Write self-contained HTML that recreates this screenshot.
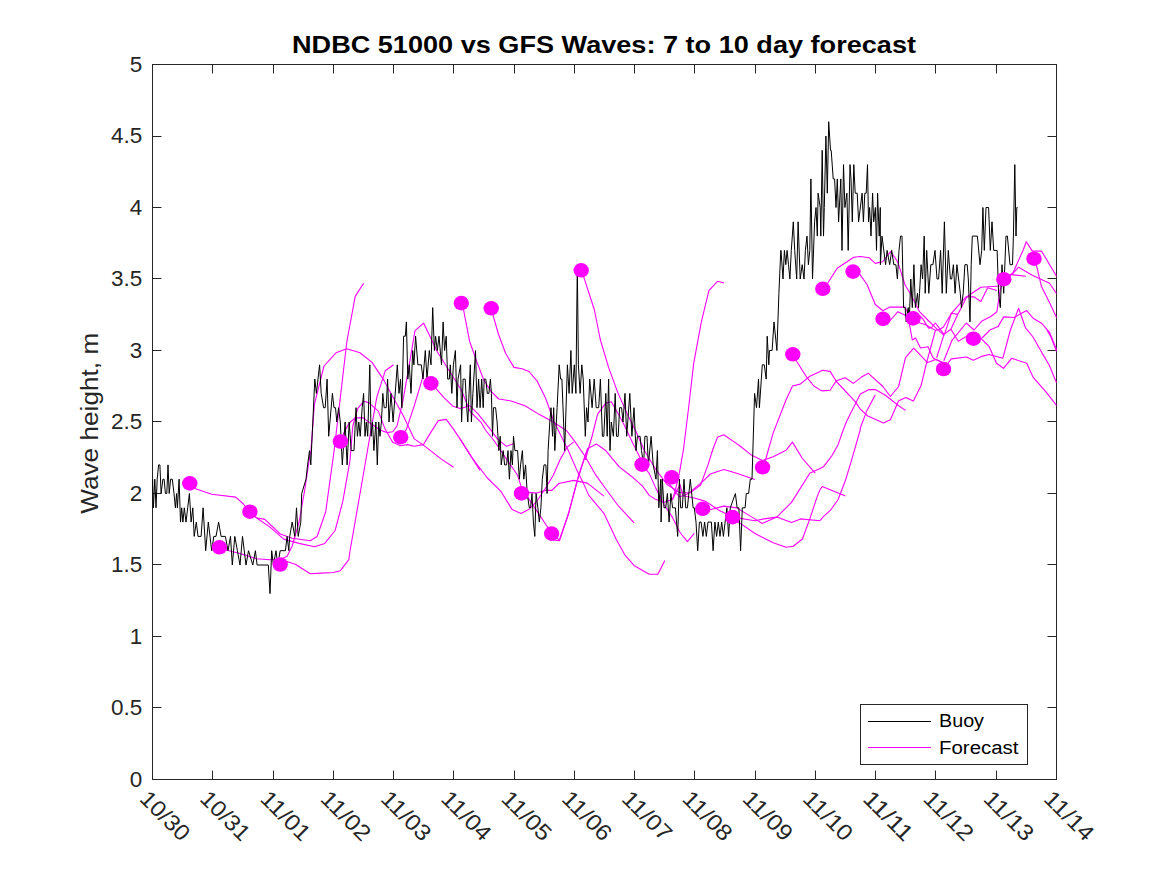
<!DOCTYPE html>
<html><head><meta charset="utf-8"><style>
html,body{margin:0;padding:0;background:#fff;width:1167px;height:875px;overflow:hidden}
svg{display:block;font-family:"Liberation Sans",sans-serif}
</style></head><body>
<svg width="1167" height="875" viewBox="0 0 1167 875">
<rect width="1167" height="875" fill="#fff"/>
<rect x="152.5" y="64.5" width="904" height="715" fill="none" stroke="#262626" stroke-width="1"/>
<path d="M152.5 779.5V770.5M152.5 64.5V73.5M212.5 779.5V770.5M212.5 64.5V73.5M273.5 779.5V770.5M273.5 64.5V73.5M333.5 779.5V770.5M333.5 64.5V73.5M393.5 779.5V770.5M393.5 64.5V73.5M453.5 779.5V770.5M453.5 64.5V73.5M514.5 779.5V770.5M514.5 64.5V73.5M574.5 779.5V770.5M574.5 64.5V73.5M634.5 779.5V770.5M634.5 64.5V73.5M694.5 779.5V770.5M694.5 64.5V73.5M755.5 779.5V770.5M755.5 64.5V73.5M815.5 779.5V770.5M815.5 64.5V73.5M875.5 779.5V770.5M875.5 64.5V73.5M935.5 779.5V770.5M935.5 64.5V73.5M996.5 779.5V770.5M996.5 64.5V73.5M1056.5 779.5V770.5M1056.5 64.5V73.5M152.5 779.5H161.5M1056.5 779.5H1047.5M152.5 707.5H161.5M1056.5 707.5H1047.5M152.5 636.5H161.5M1056.5 636.5H1047.5M152.5 564.5H161.5M1056.5 564.5H1047.5M152.5 493.5H161.5M1056.5 493.5H1047.5M152.5 421.5H161.5M1056.5 421.5H1047.5M152.5 350.5H161.5M1056.5 350.5H1047.5M152.5 278.5H161.5M1056.5 278.5H1047.5M152.5 207.5H161.5M1056.5 207.5H1047.5M152.5 136.5H161.5M1056.5 136.5H1047.5M152.5 64.5H161.5M1056.5 64.5H1047.5" stroke="#262626" stroke-width="1" fill="none"/>
<path d="M189.8 483.4 L196.3 489.1 L211.7 494.2 L235.7 497.1 L243.4 504.0 L249.9 511.7 L256.3 517.7 L264.8 519.4 L280.2 534.0 L292.2 538.3 L310.2 540.8 L317.1 536.5 L325.7 511.7 L334.2 450.0" fill="none" stroke="#ff00ff" stroke-width="1.1" stroke-linejoin="round"/>
<path d="M249.9 511.7 L256.3 517.7 L270.0 527.1 L283.7 539.1 L299.1 543.4 L314.5 546.8 L324.8 543.4 L335.1 530.5 L342.8 501.4 L350.0 460.3" fill="none" stroke="#ff00ff" stroke-width="1.1" stroke-linejoin="round"/>
<path d="M219.4 547.3 L227.1 550.3 L240.8 553.7 L256.3 558.8 L270.0 559.7 L282.0 558.8 L287.1 556.3 L292.2 546.0 L299.1 522.0 L305.1 487.7 L309.4 458.6 L311.1 450.0" fill="none" stroke="#ff00ff" stroke-width="1.1" stroke-linejoin="round"/>
<path d="M280.2 564.5 L287.1 561.4 L295.7 564.5 L310.2 573.7 L321.4 573.1 L333.4 572.5 L340.2 570.8 L348.8 559.7 L350.0 551.1" fill="none" stroke="#ff00ff" stroke-width="1.1" stroke-linejoin="round"/>
<path d="M334.2 450.0 L338.4 414.0 L346.8 342.0 L355.2 296.4 L363.6 283.2" fill="none" stroke="#ff00ff" stroke-width="1.1" stroke-linejoin="round"/>
<path d="M350.0 460.3 L352.8 426.0 L357.7 408.6 L363.7 401.3 L368.8 402.6 L378.3 411.1 L385.1 429.1 L392.6 442.3 L400.6 445.7 L407.4 444.6 L414.3 446.3 L423.4 444.6 L430.3 433.1 L438.3 420.6 L446.3 419.4 L453.1 428.6 L460.0 438.9 L480.0 470.4" fill="none" stroke="#ff00ff" stroke-width="1.1" stroke-linejoin="round"/>
<path d="M311.0 450.0 L314.4 404.4 L324.0 366.0 L336.0 352.8 L346.8 348.7 L360.0 352.8 L372.0 362.4 L384.0 380.4 L391.4 394.3 L402.9 414.9 L414.3 438.9 L423.4 445.1 L441.7 459.4 L453.6 467.3" fill="none" stroke="#ff00ff" stroke-width="1.1" stroke-linejoin="round"/>
<path d="M350.0 551.0 L362.4 480.0 L369.6 438.0 L376.8 397.2 L385.2 370.8 L393.6 364.8" fill="none" stroke="#ff00ff" stroke-width="1.1" stroke-linejoin="round"/>
<path d="M340.4 441.5 L344.0 432.6 L349.1 423.1 L355.1 418.0 L362.8 417.6 L371.4 424.0 L380.0 430.0 L386.8 432.6 L392.8 431.7 L397.1 425.7 L403.1 400.0 L409.9 360.9 L415.0 330.6 L423.6 323.1 L437.3 351.7 L461.3 390.0" fill="none" stroke="#ff00ff" stroke-width="1.1" stroke-linejoin="round"/>
<path d="M400.7 437.2 L406.3 429.7 L414.3 405.7 L423.6 374.6" fill="none" stroke="#ff00ff" stroke-width="1.1" stroke-linejoin="round"/>
<path d="M430.9 383.4 L436.0 388.6 L444.0 397.7 L453.1 406.3 L460.0 408.6" fill="none" stroke="#ff00ff" stroke-width="1.1" stroke-linejoin="round"/>
<path d="M461.3 303.1 L463.6 310.0 L469.6 341.2 L476.9 362.0 L483.7 379.8 L490.6 390.8 L498.8 399.0 L511.2 401.0 L524.9 405.8 L538.6 414.1 L553.7 422.3 L566.9 431.0 L575.1 441.9 L584.7 455.7 L595.7 474.9 L606.6 490.0 L617.6 505.0 L634.1 522.9" fill="none" stroke="#ff00ff" stroke-width="1.1" stroke-linejoin="round"/>
<path d="M491.2 308.3 L493.6 317.2 L498.4 334.0 L505.6 353.2 L513.9 367.4 L522.1 368.8 L529.0 371.5 L537.2 381.2 L544.1 394.9 L546.9 401.7 L553.7 420.9 L560.0 433.7 L568.2 450.2 L576.5 469.4 L583.3 483.1 L588.8 495.4 L603.9 513.3 L616.2 539.3" fill="none" stroke="#ff00ff" stroke-width="1.1" stroke-linejoin="round"/>
<path d="M581.2 270.3 L583.9 277.4 L594.4 310.0 L600.4 340.0 L608.6 367.4 L617.9 392.9 L627.0 413.4 L636.1 431.7 L644.1 450.0 L655.0 468.3 L667.0 484.5 L680.0 492.7" fill="none" stroke="#ff00ff" stroke-width="1.1" stroke-linejoin="round"/>
<path d="M460.0 408.6 L470.0 405.8 L478.2 414.1 L489.2 427.8 L497.4 438.8 L506.4 446.3 L513.9 443.6" fill="none" stroke="#ff00ff" stroke-width="1.1" stroke-linejoin="round"/>
<path d="M461.3 390.0 L470.0 411.3 L481.0 422.3 L485.4 430.0 L494.3 441.0 L505.3 457.4 L517.6 475.3 L521.5 487.6 L528.6 498.6 L536.8 510.9 L545.0 523.3 L551.6 533.6" fill="none" stroke="#ff00ff" stroke-width="1.1" stroke-linejoin="round"/>
<path d="M460.0 438.9 L473.7 460.2 L487.4 478.0 L501.2 491.7 L512.1 509.6 L521.0 513.4 L528.6 509.6 L536.8 501.3 L545.0 489.0 L553.3 475.3 L560.0 459.8 L566.9 447.4 L573.7 441.9" fill="none" stroke="#ff00ff" stroke-width="1.1" stroke-linejoin="round"/>
<path d="M521.5 493.4 L528.6 492.4 L536.8 493.1 L545.0 490.4 L551.9 490.4 L558.8 483.5 L573.7 480.4 L587.4 483.1 L603.9 496.1" fill="none" stroke="#ff00ff" stroke-width="1.1" stroke-linejoin="round"/>
<path d="M551.6 533.6 L558.8 539.7 L560.0 538.0 L568.2 514.7 L577.8 479.0 L587.4 448.8 L596.4 444.0 L605.3 450.2 L619.0 466.6 L631.3 476.2 L642.3 485.8 L649.2 495.4 L656.0 499.6 L664.3 502.3 L672.5 499.6 L680.0 484.5" fill="none" stroke="#ff00ff" stroke-width="1.1" stroke-linejoin="round"/>
<path d="M585.3 460.0 L592.1 436.0 L597.6 414.1 L605.8 403.1 L611.3 401.7 L616.8 411.3 L623.6 423.7 L632.7 443.1 L640.7 459.1" fill="none" stroke="#ff00ff" stroke-width="1.1" stroke-linejoin="round"/>
<path d="M642.0 464.6 L649.2 473.4 L656.0 488.6 L664.3 505.0 L672.5 517.4 L680.0 532.5" fill="none" stroke="#ff00ff" stroke-width="1.1" stroke-linejoin="round"/>
<path d="M616.2 539.3 L625.2 555.4 L634.0 565.4 L649.1 574.2 L657.9 574.2 L664.8 560.4" fill="none" stroke="#ff00ff" stroke-width="1.1" stroke-linejoin="round"/>
<path d="M680.0 532.5 L687.4 541.6 L694.3 533.4" fill="none" stroke="#ff00ff" stroke-width="1.1" stroke-linejoin="round"/>
<path d="M672.5 499.6 L675.4 490.0 L679.4 472.9 L683.4 450.0 L688.2 411.2 L693.7 363.4 L701.3 322.1 L708.9 290.6 L717.5 281.3 L724.1 283.0" fill="none" stroke="#ff00ff" stroke-width="1.1" stroke-linejoin="round"/>
<path d="M680.0 484.5 L682.9 495.7 L694.3 498.0 L705.7 501.4 L712.6 506.0 L719.4 510.6 L728.6 515.1 L740.0 523.1 L754.9 533.5 L773.2 542.7 L786.0 547.2 L793.3 546.3 L802.4 539.0 L809.8 518.9 L817.1 496.9 L820.0 489.6" fill="none" stroke="#ff00ff" stroke-width="1.1" stroke-linejoin="round"/>
<path d="M680.0 492.7 L690.5 492.6 L700.6 485.0 L703.4 477.4 L708.0 464.9 L712.6 450.0 L717.5 437.2 L723.8 434.8 L733.8 441.6 L740.0 446.0 L751.2 454.9 L762.6 460.4" fill="none" stroke="#ff00ff" stroke-width="1.1" stroke-linejoin="round"/>
<path d="M664.1 480.0 L670.3 485.0 L679.4 496.9 L688.6 493.4 L703.4 480.9 L710.3 474.0 L723.8 469.5 L736.6 473.2 L754.9 479.6" fill="none" stroke="#ff00ff" stroke-width="1.1" stroke-linejoin="round"/>
<path d="M702.7 508.8 L709.1 510.0 L723.8 506.1 L736.6 507.9 L754.9 518.9 L762.2 523.5 L776.8 517.1 L791.5 502.4 L809.8 473.2 L820.0 468.6" fill="none" stroke="#ff00ff" stroke-width="1.1" stroke-linejoin="round"/>
<path d="M732.6 517.1 L754.9 520.7 L764.0 518.9 L776.8 517.1 L791.5 522.6 L800.6 518.9 L820.0 520.7" fill="none" stroke="#ff00ff" stroke-width="1.1" stroke-linejoin="round"/>
<path d="M762.6 467.3 L765.9 458.5 L773.2 432.9 L786.0 400.0 L792.5 386.0 L800.2 384.1 L809.9 376.3 L820.0 371.4" fill="none" stroke="#ff00ff" stroke-width="1.1" stroke-linejoin="round"/>
<path d="M762.6 460.4 L773.2 456.7 L786.0 450.3 L792.4 442.1 L802.4 458.5 L815.2 473.2" fill="none" stroke="#ff00ff" stroke-width="1.1" stroke-linejoin="round"/>
<path d="M792.8 354.3 L796.3 360.7 L806.1 376.3 L813.8 386.0 L820.0 389.9" fill="none" stroke="#ff00ff" stroke-width="1.1" stroke-linejoin="round"/>
<path d="M820.0 489.6 L822.3 486.5 L845.4 496.1" fill="none" stroke="#ff00ff" stroke-width="1.1" stroke-linejoin="round"/>
<path d="M820.0 468.6 L823.1 467.1 L831.3 456.7 L838.0 444.9 L843.2 430.0 L846.4 421.7 L860.3 394.0 L869.1 389.6 L875.3 389.6 L885.4 395.3 L898.0 405.3 L905.5 410.4" fill="none" stroke="#ff00ff" stroke-width="1.1" stroke-linejoin="round"/>
<path d="M820.0 520.7 L823.1 516.9 L830.5 510.2 L838.0 499.8 L845.4 480.5 L851.3 461.2 L860.2 430.0 L860.3 428.0 L866.5 411.6 L875.3 394.7" fill="none" stroke="#ff00ff" stroke-width="1.1" stroke-linejoin="round"/>
<path d="M820.0 371.4 L822.6 370.2 L830.1 371.4 L836.4 381.5 L855.2 401.6 L860.3 409.1 L867.8 416.0 L883.5 422.9 L890.4 419.8 L898.5 401.0 L905.7 397.4 L913.4 401.0 L921.1 385.5 L926.8 361.9 L931.4 345.0 L935.4 330.4 L940.0 329.3 L943.4 327.0 L951.4 313.3 L966.3 296.7 L974.0 296.9 L980.9 301.5 L987.7 287.7 L996.9 290.6" fill="none" stroke="#ff00ff" stroke-width="1.1" stroke-linejoin="round"/>
<path d="M820.0 389.9 L822.6 390.9 L830.1 390.3 L836.4 380.8 L845.2 377.7 L853.4 383.4 L861.5 377.1 L868.4 373.3 L882.9 386.5 L890.4 396.5 L898.6 386.5 L905.5 357.6 L913.7 348.2 L927.5 362.6 L935.7 359.5 L943.2 362.6" fill="none" stroke="#ff00ff" stroke-width="1.1" stroke-linejoin="round"/>
<path d="M822.8 288.8 L827.6 283.3 L837.2 268.2 L853.7 257.2 L860.5 256.5 L869.1 257.7 L875.3 263.4 L882.5 261.8 L890.7 251.5 L897.9 262.3 L905.1 285.0 L911.3 295.3 L919.5 311.7 L927.8 320.0 L936.0 328.2 L944.2 335.4" fill="none" stroke="#ff00ff" stroke-width="1.1" stroke-linejoin="round"/>
<path d="M853.0 271.6 L859.8 274.4 L866.9 284.3 L875.3 304.5 L883.0 310.7 L889.7 307.1 L905.1 307.1 L907.2 311.7 L912.3 340.0 L915.5 338.0 L920.5 348.0 L928.0 346.8 L933.1 358.1 L943.1 363.1" fill="none" stroke="#ff00ff" stroke-width="1.1" stroke-linejoin="round"/>
<path d="M943.5 369.0 L951.3 358.9 L966.4 357.0 L973.3 360.2 L981.5 356.4 L989.0 354.5 L1002.8 358.3 L1010.4 330.0 L1018.6 308.3 L1025.5 327.8 L1033.0 337.0 L1041.8 352.6 L1049.3 365.2 L1056.5 382.8" fill="none" stroke="#ff00ff" stroke-width="1.1" stroke-linejoin="round"/>
<path d="M973.4 338.7 L982.0 338.0 L990.0 330.0 L998.0 326.6 L1003.7 316.9 L1014.0 317.5 L1026.6 310.6 L1033.5 318.6 L1041.5 323.2 L1049.5 332.3 L1056.5 349.5" fill="none" stroke="#ff00ff" stroke-width="1.1" stroke-linejoin="round"/>
<path d="M973.4 338.7 L981.5 338.8 L989.0 346.3 L996.5 363.3 L1003.5 368.3 L1011.6 358.3 L1026.7 363.3 L1033.0 377.1 L1046.8 392.8 L1056.5 405.4" fill="none" stroke="#ff00ff" stroke-width="1.1" stroke-linejoin="round"/>
<path d="M1003.8 279.2 L1011.7 274.6 L1018.6 267.2 L1032.3 275.2 L1049.5 283.2 L1056.5 293.5" fill="none" stroke="#ff00ff" stroke-width="1.1" stroke-linejoin="round"/>
<path d="M1011.7 274.6 L1026.0 276.3" fill="none" stroke="#ff00ff" stroke-width="1.1" stroke-linejoin="round"/>
<path d="M1003.8 279.2 L1012.9 272.9 L1023.2 250.0 L1026.3 241.7 L1032.3 251.1 L1041.5 251.1 L1056.5 276.3" fill="none" stroke="#ff00ff" stroke-width="1.1" stroke-linejoin="round"/>
<path d="M1034.0 258.7 L1036.9 267.2 L1041.5 286.6 L1049.5 302.6 L1056.5 317.5" fill="none" stroke="#ff00ff" stroke-width="1.1" stroke-linejoin="round"/>
<path d="M1046.8 330.0 L1050.6 336.3 L1056.5 351.4" fill="none" stroke="#ff00ff" stroke-width="1.1" stroke-linejoin="round"/>
<path d="M883.0 318.9 L889.7 321.0 L897.9 311.7 L906.2 315.8 L913.1 318.4" fill="none" stroke="#ff00ff" stroke-width="1.1" stroke-linejoin="round"/>
<path d="M913.1 318.4 L920.0 316.1 L922.9 319.0 L925.7 323.6 L928.6 328.1 L931.4 327.6 L935.4 323.0 L938.9 327.6 L944.0 334.4" fill="none" stroke="#ff00ff" stroke-width="1.1" stroke-linejoin="round"/>
<path d="M913.1 318.4 L920.0 323.0 L925.7 324.7 L928.6 326.4 L935.4 330.4" fill="none" stroke="#ff00ff" stroke-width="1.1" stroke-linejoin="round"/>
<path d="M936.6 357.8 L943.8 335.1 L944.6 333.9 L950.9 329.3 L957.7 314.4 L966.9 296.7 L980.9 287.2 L1000.3 286.0 L1003.7 279.2" fill="none" stroke="#ff00ff" stroke-width="1.1" stroke-linejoin="round"/>
<path d="M944.6 333.9 L951.4 313.3 L957.7 314.4" fill="none" stroke="#ff00ff" stroke-width="1.1" stroke-linejoin="round"/>
<path d="M943.8 360.8 L952.0 340.3 L966.3 323.0 L970.0 326.4 L974.0 330.0 L982.0 320.9 L991.2 316.3 L996.9 311.7 L1000.3 288.9 L1003.7 279.2" fill="none" stroke="#ff00ff" stroke-width="1.1" stroke-linejoin="round"/>
<path d="M950.9 329.3 L958.3 341.3 L966.9 336.1 L973.4 338.7" fill="none" stroke="#ff00ff" stroke-width="1.1" stroke-linejoin="round"/>
<path d="M549.0 539.5 L559.6 540.6 L569.0 512.0 L578.3 476.5 L584.4 458.0 L588.0 448.8" fill="none" stroke="#ff00ff" stroke-width="1.1" stroke-linejoin="round"/>
<path d="M152.6 479.2 L153.4 507.8 L154.8 479.2 L156.0 507.8 L157.2 479.2 L158.6 464.9 L159.9 464.9 L161.1 493.5 L162.9 479.2 L164.1 479.2 L165.4 493.5 L166.8 493.5 L168.0 464.9 L169.2 493.5 L170.6 479.2 L172.3 479.2 L174.0 493.5 L175.4 507.8 L176.6 493.5 L177.4 507.8 L179.1 479.2 L180.5 522.1 L181.7 507.8 L182.9 522.1 L184.3 507.8 L186.0 522.1 L187.7 507.8 L189.4 493.5 L191.1 522.1 L192.8 507.8 L194.2 536.4 L196.3 522.1 L198.0 536.4 L201.1 536.4 L203.1 507.8 L205.7 550.7 L208.3 522.1 L211.7 550.7 L213.8 536.4 L216.0 536.4 L218.6 522.1 L221.1 536.4 L225.4 536.4 L228.0 550.7 L230.5 536.4 L232.3 565.0 L234.8 536.4 L237.4 550.7 L240.0 565.0 L242.5 536.4 L246.0 565.0 L248.5 550.7 L252.8 565.0 L255.4 550.7 L257.1 565.0 L268.3 565.0 L270.0 593.6 L271.7 550.7 L273.4 565.0 L276.0 550.7 L277.7 565.0 L280.2 550.7 L285.4 550.7 L287.1 536.4 L288.8 550.7 L289.7 536.4 L292.2 522.1 L294.8 536.4 L296.5 507.8 L298.2 536.4 L300.8 522.1 L301.7 493.5 L306.0 479.2 L307.6 464.9 L309.5 450.6 L310.8 464.9 L314.8 379.1 L316.4 393.4 L319.6 364.8 L321.2 393.4 L323.6 407.7 L325.2 407.7 L327.1 379.1 L328.7 436.3 L332.4 393.4 L334.0 407.7 L335.5 407.7 L336.8 422.0 L338.6 407.7 L340.3 422.0 L342.3 464.9 L345.1 422.0 L347.1 464.9 L349.2 422.0 L351.2 450.6 L354.0 450.6 L356.0 407.7 L357.4 436.3 L358.8 422.0 L360.2 436.3 L362.2 407.7 L363.6 393.4 L365.0 436.3 L366.3 422.0 L367.7 436.3 L369.8 364.8 L371.1 436.3 L372.5 422.0 L373.9 450.6 L375.9 422.0 L377.3 464.9 L378.7 422.0 L380.0 436.3 L381.4 422.0 L382.8 393.4 L384.2 407.7 L386.2 407.7 L387.6 379.1 L389.0 422.0 L391.0 393.4 L393.1 422.0 L397.3 364.8 L399.0 393.4 L400.5 379.1 L401.9 407.7 L403.6 336.2 L405.3 336.2 L406.4 321.9 L407.8 379.1 L409.3 364.8 L411.0 393.4 L412.7 350.5 L413.9 364.8 L415.6 336.2 L417.9 364.8 L421.3 364.8 L423.0 379.1 L425.3 350.5 L427.0 379.1 L429.3 350.5 L431.0 364.8 L432.7 307.6 L434.4 350.5 L435.6 336.2 L437.3 350.5 L439.0 336.2 L441.5 364.8 L443.1 321.9 L444.6 350.5 L446.2 336.2 L447.7 379.1 L449.3 379.1 L450.3 364.8 L451.8 393.4 L453.4 364.8 L455.4 350.5 L457.0 407.7 L458.0 379.1 L460.6 364.8 L461.6 422.0 L463.1 379.1 L465.2 379.1 L466.7 407.7 L467.8 422.0 L470.3 364.8 L471.4 422.0 L472.9 393.4 L475.5 350.5 L477.0 407.7 L478.6 379.1 L480.1 407.7 L481.7 379.1 L483.2 407.7 L484.2 379.1 L485.8 379.1 L487.3 393.4 L488.9 393.4 L490.4 379.1 L491.4 393.4 L492.5 436.3 L493.5 407.7 L495.6 407.7 L497.1 422.0 L498.8 450.6 L500.2 436.3 L501.2 464.9 L503.2 450.6 L504.6 464.9 L506.6 464.9 L508.0 450.6 L509.4 479.2 L511.0 450.6 L512.4 464.9 L513.5 436.3 L514.9 450.6 L517.6 450.6 L519.3 479.2 L520.6 464.9 L522.4 450.6 L523.8 479.2 L525.6 464.9 L527.2 493.5 L529.3 507.8 L530.6 507.8 L532.0 493.5 L533.4 522.1 L534.8 536.4 L536.1 493.5 L537.9 507.8 L539.3 522.1 L540.9 507.8 L542.3 479.2 L544.0 464.9 L545.9 464.9 L547.1 493.5 L548.1 450.6 L549.8 422.0 L551.0 407.7 L552.6 436.3 L553.7 407.7 L554.8 450.6 L557.1 407.7 L559.2 364.8 L560.6 379.1 L561.9 379.1 L564.7 450.6 L567.4 364.8 L569.1 393.4 L570.9 350.5 L572.2 393.4 L574.3 364.8 L575.9 393.4 L577.3 264.7 L578.4 364.8 L580.1 393.4 L581.8 364.8 L583.2 379.1 L585.3 436.3 L586.6 407.7 L588.0 422.0 L589.7 379.1 L592.1 407.7 L594.2 379.1 L596.2 407.7 L598.7 407.7 L600.4 379.1 L602.4 436.3 L603.8 436.3 L605.8 393.4 L607.2 436.3 L608.6 379.1 L610.0 450.6 L611.3 422.0 L613.4 436.3 L615.2 393.4 L616.5 436.3 L618.2 436.3 L619.6 407.7 L621.6 407.7 L623.0 422.0 L625.0 393.4 L626.7 436.3 L629.8 393.4 L631.9 436.3 L634.0 407.7 L636.0 450.6 L637.4 436.3 L640.1 436.3 L641.5 450.6 L643.6 464.9 L644.9 436.3 L647.0 436.3 L648.4 464.9 L651.1 436.3 L653.2 464.9 L656.0 479.2 L657.4 450.6 L658.8 507.8 L660.8 479.2 L661.1 522.1 L662.3 479.2 L664.0 507.8 L665.7 507.8 L667.4 493.5 L669.1 522.1 L670.9 493.5 L672.6 507.8 L673.7 507.8 L675.4 507.8 L677.7 536.4 L679.4 479.2 L680.6 507.8 L682.3 507.8 L684.0 479.2 L685.7 507.8 L687.4 507.8 L690.3 479.2 L693.1 507.8 L694.3 507.8 L696.0 522.1 L697.7 550.7 L699.4 522.1 L701.1 522.1 L702.9 536.4 L704.6 522.1 L706.3 536.4 L708.0 522.1 L709.7 522.1 L711.4 522.1 L713.1 550.7 L714.9 522.1 L716.6 536.4 L718.3 522.1 L720.0 536.4 L721.7 522.1 L723.4 536.4 L725.1 522.1 L726.9 507.8 L728.6 536.4 L730.3 507.8 L735.4 493.5 L737.1 507.8 L738.9 507.8 L740.6 550.7 L742.3 507.8 L745.1 507.8 L746.3 493.5 L748.6 493.5 L750.3 479.2 L752.0 479.2 L754.6 393.4 L756.5 407.7 L758.5 379.1 L759.4 407.7 L762.3 364.8 L764.3 364.8 L766.2 379.1 L767.2 336.2 L768.8 364.8 L769.5 350.5 L772.1 350.5 L774.0 321.9 L776.9 350.5 L778.9 293.3 L780.8 250.4 L781.0 250.4 L783.0 279.0 L784.4 250.4 L785.8 264.7 L787.1 250.4 L788.5 264.7 L789.9 279.0 L791.3 250.4 L793.3 221.8 L794.7 250.4 L796.7 279.0 L798.1 221.8 L800.2 279.0 L802.2 264.7 L804.0 279.0 L805.4 250.4 L807.0 236.1 L808.4 264.7 L809.8 250.4 L810.9 178.9 L812.5 279.0 L814.6 221.8 L816.0 207.5 L817.3 236.1 L818.1 193.2 L820.2 207.5 L820.8 236.1 L822.2 150.3 L823.5 236.1 L824.3 207.5 L825.9 136.0 L827.3 193.2 L828.7 121.7 L830.5 150.3 L831.2 150.3 L833.2 178.9 L834.6 178.9 L836.0 207.5 L837.3 178.9 L838.6 221.8 L840.8 178.9 L842.0 250.4 L843.5 164.6 L844.9 207.5 L846.9 193.2 L848.2 250.4 L850.0 164.6 L851.0 178.9 L852.3 221.8 L853.8 164.6 L855.2 193.2 L857.2 193.2 L858.6 221.8 L862.1 193.2 L863.4 221.8 L864.8 193.2 L866.2 193.2 L867.5 164.6 L868.5 221.8 L869.6 207.5 L871.0 236.1 L872.6 193.2 L873.7 221.8 L875.4 207.5 L876.5 250.4 L877.6 193.2 L879.2 236.1 L880.3 207.5 L880.4 264.7 L882.0 236.1 L885.6 264.7 L887.1 250.4 L889.7 264.7 L891.7 250.4 L893.8 264.7 L895.9 264.7 L897.4 279.0 L899.0 250.4 L900.5 236.1 L902.0 236.1 L903.6 307.6 L905.1 307.6 L906.2 321.9 L908.2 307.6 L909.2 321.9 L910.8 279.0 L912.3 307.6 L913.9 264.7 L915.4 307.6 L917.5 293.3 L918.5 307.6 L919.5 293.3 L921.1 264.7 L922.6 279.0 L924.2 236.1 L925.2 293.3 L926.7 250.4 L928.8 293.3 L930.8 264.7 L932.9 264.7 L935.0 250.4 L937.0 279.0 L938.6 279.0 L940.6 250.4 L942.2 293.3 L944.4 221.8 L946.3 293.3 L948.3 250.4 L950.4 279.0 L951.7 279.0 L953.4 264.7 L955.1 293.3 L956.9 264.7 L958.6 279.0 L960.3 293.3 L961.4 307.6 L963.2 293.3 L964.9 264.7 L967.2 264.7 L968.3 279.0 L970.0 321.9 L971.2 264.7 L972.3 236.1 L977.4 236.1 L980.0 264.7 L981.7 250.4 L982.9 207.5 L984.3 250.4 L986.0 207.5 L988.6 207.5 L990.3 250.4 L992.0 221.8 L993.7 250.4 L997.1 250.4 L998.6 293.3 L1000.3 307.6 L1002.0 264.7 L1003.7 293.3 L1006.0 236.1 L1007.4 236.1 L1010.0 264.7 L1012.5 264.7 L1013.4 236.1 L1014.8 164.6 L1016.0 236.1 L1016.8 207.5 L1017.5 207.5" fill="none" stroke="#000" stroke-width="1" stroke-linejoin="miter"/>
<ellipse cx="189.8" cy="483.4" rx="7.7" ry="7.3" fill="#ff00ff"/>
<ellipse cx="249.9" cy="511.7" rx="7.7" ry="7.3" fill="#ff00ff"/>
<ellipse cx="219.4" cy="547.3" rx="7.7" ry="7.3" fill="#ff00ff"/>
<ellipse cx="280.2" cy="564.5" rx="7.7" ry="7.3" fill="#ff00ff"/>
<ellipse cx="340.4" cy="441.5" rx="7.7" ry="7.3" fill="#ff00ff"/>
<ellipse cx="400.7" cy="437.2" rx="7.7" ry="7.3" fill="#ff00ff"/>
<ellipse cx="430.9" cy="383.4" rx="7.7" ry="7.3" fill="#ff00ff"/>
<ellipse cx="461.3" cy="303.1" rx="7.7" ry="7.3" fill="#ff00ff"/>
<ellipse cx="491.2" cy="308.3" rx="7.7" ry="7.3" fill="#ff00ff"/>
<ellipse cx="581.2" cy="270.3" rx="7.7" ry="7.3" fill="#ff00ff"/>
<ellipse cx="521.5" cy="493.4" rx="7.7" ry="7.3" fill="#ff00ff"/>
<ellipse cx="551.6" cy="533.6" rx="7.7" ry="7.3" fill="#ff00ff"/>
<ellipse cx="642.0" cy="464.6" rx="7.7" ry="7.3" fill="#ff00ff"/>
<ellipse cx="671.8" cy="477.3" rx="7.7" ry="7.3" fill="#ff00ff"/>
<ellipse cx="702.7" cy="508.8" rx="7.7" ry="7.3" fill="#ff00ff"/>
<ellipse cx="732.6" cy="517.1" rx="7.7" ry="7.3" fill="#ff00ff"/>
<ellipse cx="762.6" cy="467.3" rx="7.7" ry="7.3" fill="#ff00ff"/>
<ellipse cx="792.8" cy="354.3" rx="7.7" ry="7.3" fill="#ff00ff"/>
<ellipse cx="822.8" cy="288.8" rx="7.7" ry="7.3" fill="#ff00ff"/>
<ellipse cx="853.0" cy="271.6" rx="7.7" ry="7.3" fill="#ff00ff"/>
<ellipse cx="883.0" cy="318.9" rx="7.7" ry="7.3" fill="#ff00ff"/>
<ellipse cx="913.1" cy="318.4" rx="7.7" ry="7.3" fill="#ff00ff"/>
<ellipse cx="943.5" cy="369.0" rx="7.7" ry="7.3" fill="#ff00ff"/>
<ellipse cx="973.4" cy="338.7" rx="7.7" ry="7.3" fill="#ff00ff"/>
<ellipse cx="1003.8" cy="279.2" rx="7.7" ry="7.3" fill="#ff00ff"/>
<ellipse cx="1034.0" cy="258.7" rx="7.7" ry="7.3" fill="#ff00ff"/>
<text x="142.3" y="786.5" text-anchor="end" font-size="22.5" fill="#262626">0</text>
<text x="142.3" y="715.0" text-anchor="end" font-size="22.5" fill="#262626">0.5</text>
<text x="142.3" y="643.5" text-anchor="end" font-size="22.5" fill="#262626">1</text>
<text x="142.3" y="572.0" text-anchor="end" font-size="22.5" fill="#262626">1.5</text>
<text x="142.3" y="500.5" text-anchor="end" font-size="22.5" fill="#262626">2</text>
<text x="142.3" y="429.0" text-anchor="end" font-size="22.5" fill="#262626">2.5</text>
<text x="142.3" y="357.5" text-anchor="end" font-size="22.5" fill="#262626">3</text>
<text x="142.3" y="286.0" text-anchor="end" font-size="22.5" fill="#262626">3.5</text>
<text x="142.3" y="214.5" text-anchor="end" font-size="22.5" fill="#262626">4</text>
<text x="142.3" y="143.0" text-anchor="end" font-size="22.5" fill="#262626">4.5</text>
<text x="142.3" y="71.5" text-anchor="end" font-size="22.5" fill="#262626">5</text>
<text transform="translate(138.5,800.0) rotate(45)" font-size="22.5" fill="#262626" textLength="60" lengthAdjust="spacingAndGlyphs">10/30</text>
<text transform="translate(198.8,800.0) rotate(45)" font-size="22.5" fill="#262626" textLength="60" lengthAdjust="spacingAndGlyphs">10/31</text>
<text transform="translate(259.0,800.0) rotate(45)" font-size="22.5" fill="#262626" textLength="60" lengthAdjust="spacingAndGlyphs">11/01</text>
<text transform="translate(319.3,800.0) rotate(45)" font-size="22.5" fill="#262626" textLength="60" lengthAdjust="spacingAndGlyphs">11/02</text>
<text transform="translate(379.6,800.0) rotate(45)" font-size="22.5" fill="#262626" textLength="60" lengthAdjust="spacingAndGlyphs">11/03</text>
<text transform="translate(439.8,800.0) rotate(45)" font-size="22.5" fill="#262626" textLength="60" lengthAdjust="spacingAndGlyphs">11/04</text>
<text transform="translate(500.1,800.0) rotate(45)" font-size="22.5" fill="#262626" textLength="60" lengthAdjust="spacingAndGlyphs">11/05</text>
<text transform="translate(560.4,800.0) rotate(45)" font-size="22.5" fill="#262626" textLength="60" lengthAdjust="spacingAndGlyphs">11/06</text>
<text transform="translate(620.6,800.0) rotate(45)" font-size="22.5" fill="#262626" textLength="60" lengthAdjust="spacingAndGlyphs">11/07</text>
<text transform="translate(680.9,800.0) rotate(45)" font-size="22.5" fill="#262626" textLength="60" lengthAdjust="spacingAndGlyphs">11/08</text>
<text transform="translate(741.2,800.0) rotate(45)" font-size="22.5" fill="#262626" textLength="60" lengthAdjust="spacingAndGlyphs">11/09</text>
<text transform="translate(801.4,800.0) rotate(45)" font-size="22.5" fill="#262626" textLength="60" lengthAdjust="spacingAndGlyphs">11/10</text>
<text transform="translate(861.7,800.0) rotate(45)" font-size="22.5" fill="#262626" textLength="60" lengthAdjust="spacingAndGlyphs">11/11</text>
<text transform="translate(922.0,800.0) rotate(45)" font-size="22.5" fill="#262626" textLength="60" lengthAdjust="spacingAndGlyphs">11/12</text>
<text transform="translate(982.2,800.0) rotate(45)" font-size="22.5" fill="#262626" textLength="60" lengthAdjust="spacingAndGlyphs">11/13</text>
<text transform="translate(1042.5,800.0) rotate(45)" font-size="22.5" fill="#262626" textLength="60" lengthAdjust="spacingAndGlyphs">11/14</text>
<text transform="translate(98.3,423.3) rotate(-90)" text-anchor="middle" font-size="23" fill="#262626" textLength="181" lengthAdjust="spacingAndGlyphs">Wave height, m</text>
<text x="604" y="53" text-anchor="middle" font-size="23" font-weight="bold" fill="#000" textLength="624" lengthAdjust="spacingAndGlyphs">NDBC 51000 vs GFS Waves: 7 to 10 day forecast</text>
<rect x="860.5" y="704.5" width="167" height="60" fill="#fff" stroke="#262626" stroke-width="1"/>
<path d="M868 721.5H931" stroke="#000" stroke-width="1"/>
<path d="M868 747.5H931" stroke="#ff00ff" stroke-width="1.1"/>
<text x="939" y="726.7" font-size="18.8" fill="#000" textLength="45" lengthAdjust="spacingAndGlyphs">Buoy</text>
<text x="939" y="753.6" font-size="18.8" fill="#000" textLength="79.5" lengthAdjust="spacingAndGlyphs">Forecast</text>
</svg></body></html>
